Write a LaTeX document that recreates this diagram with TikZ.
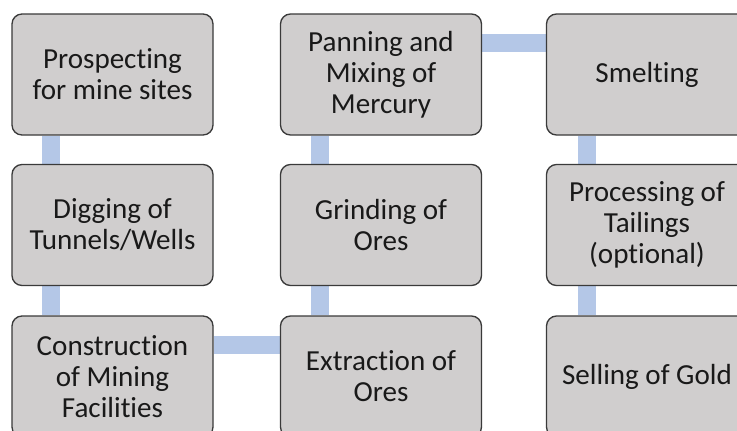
\documentclass[tikz,border=0pt]{standalone}
\usepackage{fontspec}
\setmainfont{Carlito}[Ligatures=NoCommon]
\usetikzlibrary{positioning, backgrounds}

\definecolor{boxgray}{HTML}{D0CECE}
\definecolor{boxline}{HTML}{3A3A3A}
\definecolor{linkblue}{HTML}{B4C7E7}

\tikzset{
    stage/.style={rectangle, rounded corners=7.5pt, draw=boxline, line width=1pt,
        fill=boxgray, minimum width=150.75pt, minimum height=90.75pt,
        align=center, text=black!90, font=\fontsize{21.8}{23.25}\selectfont},
    link/.style={draw=linkblue, line width=13.5pt}
}

\begin{document}
\begin{tikzpicture}[x=0.75pt, y=-0.75pt]
    \clip (0,0) rectangle (737,430);

    % first column
    \node[stage] (prospect) at (112.5,74.5) {Prospecting\\for mine sites};
    \node[stage] (digging) at (112.5,225) {Digging of\\Tunnels/Wells};
    \node[stage] (construct) at (112.5,376.5) {Construction\\of Mining\\Facilities};

    % second column
    \node[stage] (panning) at (381,74.5) {Panning and\\Mixing of\\Mercury};
    \node[stage] (grinding) at (381,225) {Grinding of\\Ores};
    \node[stage] (extract) at (381,376.5) {Extraction of\\Ores};

    % third column
    \node[stage] (smelt) at (647,74.5) {Smelting};
    \node[stage] (tailings) at (647,225) {Processing of\\Tailings\\(optional)};
    \node[stage] (selling) at (647,376.5) {Selling of Gold};

    \begin{scope}[on background layer]
        \fill[white] (0,0) rectangle (737,430);
        \draw[link] ([xshift=30pt]prospect.south west) -- ([xshift=30pt]digging.north west);
        \draw[link] ([xshift=30pt]digging.south west) -- ([xshift=30pt]construct.north west);
        \draw[link] ([yshift=-22pt]construct.north east) -- ([yshift=-22pt]extract.north west);
        \draw[link] ([xshift=30pt]extract.north west) -- ([xshift=30pt]grinding.south west);
        \draw[link] ([xshift=30pt]grinding.north west) -- ([xshift=30pt]panning.south west);
        \draw[link] ([yshift=-22pt]panning.north east) -- ([yshift=-22pt]smelt.north west);
        \draw[link] ([xshift=30.5pt]smelt.south west) -- ([xshift=30.5pt]tailings.north west);
        \draw[link] ([xshift=30.5pt]tailings.south west) -- ([xshift=30.5pt]selling.north west);
    \end{scope}
\end{tikzpicture}
\end{document}
